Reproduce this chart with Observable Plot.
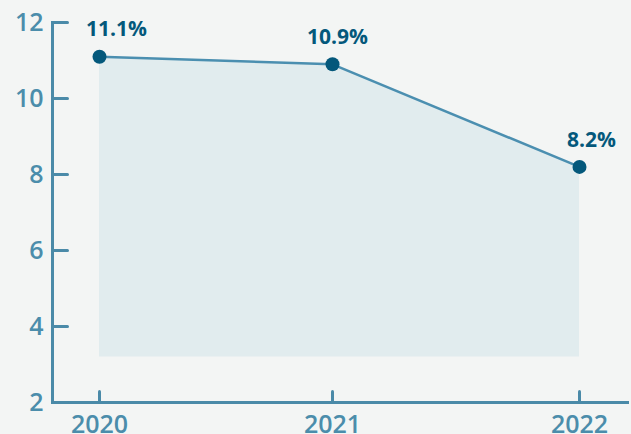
<!DOCTYPE html>
<html>
<head>
<meta charset="utf-8">
<script src="https://cdn.jsdelivr.net/npm/d3@7"></script>
<script src="https://cdn.jsdelivr.net/npm/@observablehq/plot@0.6"></script>
<style>
  html, body { margin: 0; padding: 0; background: #f3f5f4; }
  #chart svg { display: block; }
</style>
</head>
<body>
<div id="chart"></div>
<script>
const years = [2020, 2021, 2022];
const values = [11.1, 10.9, 8.2];
const labels = ["11.1%", "10.9%", "8.2%"];
const yTicks = [2, 4, 6, 8, 10, 12];
const areaBase = 3.2;

const data = years.map((year, i) => ({year, value: values[i], label: labels[i]}));

const axisColor = "#4a8aa8";
const labelColor = "#4b8dab";
const darkColor = "#04587b";
const font = "'Open Sans', 'Noto Sans', sans-serif";
const labelDx = [17, 5, 12];

const spike = {draw(context, l) { context.moveTo(0, 0); context.lineTo(0, -l); }};

const chart = Plot.plot({
  width: 631,
  height: 434,
  marginLeft: 52,
  marginRight: 4,
  marginTop: 22,
  marginBottom: 32,
  style: {background: "#f3f5f4", fontFamily: font, overflow: "visible"},
  x: {type: "linear", domain: years, range: [99, 332, 579], axis: null},
  y: {domain: [2, 12], axis: null},
  marks: [
    Plot.areaY(data, {x: "year", y1: areaBase, y2: "value", fill: "#e1ecee"}),
    Plot.frame({anchor: "left", stroke: axisColor, strokeWidth: 3}),
    Plot.frame({anchor: "bottom", stroke: axisColor, strokeWidth: 3}),
    Plot.vector(yTicks, {y: d => d, frameAnchor: "left", length: 15, rotate: 90, anchor: "start", shape: spike, stroke: axisColor, strokeWidth: 3}),
    Plot.vector(years, {x: d => d, frameAnchor: "bottom", length: 11, rotate: 0, anchor: "start", shape: spike, stroke: axisColor, strokeWidth: 3}),
    Plot.axisY(yTicks, {anchor: "left", label: null, tickSize: 0, tickPadding: 9, fill: labelColor, fontSize: 25, fontWeight: 600, fontFamily: font}),
    Plot.axisX(years, {anchor: "bottom", label: null, tickSize: 0, tickPadding: 13, tickFormat: d => String(d), fill: labelColor, fontSize: 25, fontWeight: 600, fontFamily: font}),
    Plot.lineY(data, {x: "year", y: "value", stroke: "#4b8fb0", strokeWidth: 2.5}),
    Plot.dot(data, {x: "year", y: "value", r: 7, fill: darkColor}),
    ...data.map((d, i) => Plot.text([d], {x: "year", y: "value", text: "label", dx: labelDx[i], dy: -27, fill: darkColor, fontSize: 21, fontWeight: 700, fontFamily: font}))
  ]
});
document.getElementById("chart").appendChild(chart);
</script>
</body>
</html>
